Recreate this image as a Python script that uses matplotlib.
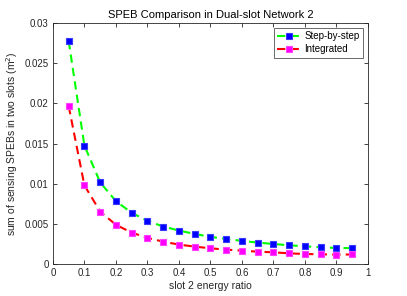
import numpy as np
import matplotlib
matplotlib.use("Agg")
import matplotlib.pyplot as plt

plt.rcParams["font.family"] = ["Liberation Sans", "DejaVu Sans"]

ratio = [0.05, 0.10, 0.15, 0.20, 0.25, 0.30, 0.35, 0.40, 0.45, 0.50,
         0.55, 0.60, 0.65, 0.70, 0.75, 0.80, 0.85, 0.90, 0.95]
step_by_step = [0.02776, 0.01475, 0.01017, 0.00783, 0.00638, 0.00538, 0.00467,
                0.00417, 0.00375, 0.00338, 0.00313, 0.00288, 0.00267, 0.00250,
                0.00233, 0.00221, 0.00208, 0.00200, 0.00198]
integrated = [0.01967, 0.00979, 0.00654, 0.00488, 0.00392, 0.00325, 0.00279,
              0.00242, 0.00217, 0.00196, 0.00179, 0.00167, 0.00154, 0.00146,
              0.00133, 0.00125, 0.00121, 0.00117, 0.00119]

fig = plt.figure(figsize=(4.07, 2.96), dpi=100)
ax = fig.add_axes([0.130, 0.108, 0.774, 0.814])

ax.plot(ratio, step_by_step, color="#00ff00", linestyle=(0, (4, 2.5)), linewidth=1.5,
        marker="s", markersize=4, markerfacecolor="#0000ff", markeredgecolor="#3a3aff",
        markeredgewidth=0.8, label="Step-by-step")
ax.plot(ratio, integrated, color="#ff0000", linestyle=(0, (4, 2.5)), linewidth=1.5,
        marker="s", markersize=4, markerfacecolor="#ff00ff", markeredgecolor="#ff40ff",
        markeredgewidth=0.8, label="Integrated")

ax.set_xlim(0, 1)
ax.set_ylim(0, 0.03)
ax.set_xticks(np.arange(0, 1.01, 0.1))
ax.set_xticklabels(["0", "0.1", "0.2", "0.3", "0.4", "0.5", "0.6", "0.7", "0.8", "0.9", "1"])
ax.set_yticks(np.arange(0, 0.0301, 0.005))
ax.set_yticklabels(["0", "0.005", "0.01", "0.015", "0.02", "0.025", "0.03"])

for s in ax.spines.values():
    s.set_color("#262626")
    s.set_linewidth(0.6)
ax.tick_params(direction="in", length=3, width=0.6, labelsize=7, colors="#262626",
               top=True, right=True, pad=3)

ax.set_xlabel("slot 2 energy ratio", fontsize=7.5, color="#262626", labelpad=2)
ax.set_ylabel("sum of sensing SPEBs in two slots (m$^2$)", fontsize=7.5,
              color="#262626", labelpad=3)
ax.set_title("SPEB Comparison in Dual-slot Network 2", fontsize=8, color="black", pad=4)

leg = ax.legend(loc="upper right", fontsize=7, frameon=True, fancybox=False,
                handlelength=2.4, handletextpad=0.4, borderpad=0.35, labelspacing=0.3,
                borderaxespad=0.5)
leg.get_frame().set_edgecolor("#262626")
leg.get_frame().set_linewidth(0.6)

fig.savefig("out.png", dpi=100)
